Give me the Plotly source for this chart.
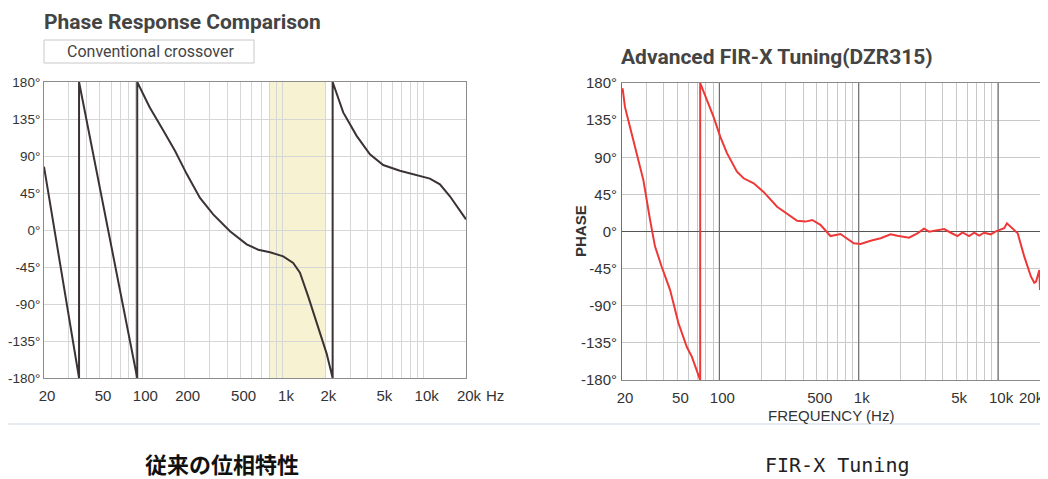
import math
import plotly.graph_objects as go

# ---------------- data ----------------
# Conventional crossover phase (Hz, degrees); repeated freq = wrap-around jump
conv_freq = [20, 35.5, 35.5, 92, 92, 113, 141, 171, 207, 257, 319, 420, 552, 667,
             808, 1004, 1182, 1320, 1512, 1734, 2041, 2254, 2254, 2680, 3338, 4150,
             5158, 6778, 8912, 11076, 13052, 15374, 20000]
conv_phase = [77, -180, 180, -180, 180, 149, 121, 96, 68, 39, 19, -1.5, -17.5, -24,
              -27, -32, -40, -52, -81, -113, -150, -180, 180, 143, 114.5, 92,
              79, 72, 66.5, 62.5, 55.5, 41, 13]

# Crossover band highlighted on the left chart (Hz)
band_freq = [800, 2000]

# Advanced FIR-X tuning phase (Hz, degrees)
fir_freq = [20.2, 21.0, 22.8, 25.5, 28.5, 31.8, 34.5, 38.6, 44.3, 50.8, 58.4, 63.5,
            68.9, 72.8, 72.8, 81.3, 90.8, 101.4, 113.3, 133.7, 149.2, 176.2, 207.6,
            259.5, 306.2, 361.4, 415, 463.6, 531, 627, 740, 922, 1031, 1217, 1436,
            1695, 1894, 2296, 2637, 2944, 3199, 3675, 4104, 4582, 5118, 5560, 6200,
            6736, 7314, 7944, 8873, 9640, 10473, 11067, 11580, 12365, 13830, 15430,
            17230, 18210, 18720, 19790, 20000]
fir_phase = [173.6, 151, 127, 95, 62, 14, -18, -43, -71, -111, -140, -152,
             -168, -180, 180, 159, 139, 115, 95, 72.5, 64.5, 58.5, 48,
             30, 22, 13, 12, 14, 8, -5.5, -3, -14.3, -15.2, -11.2, -8.2,
             -3.4, -5.1, -7.5, -2.2, 3.4, -0.2, 1.8, 3.0, -1.5, -5.5, -1.0, -5.5,
             -1.5, -5.1, -1.5, -3.4, 0.2, 2.7, 3.9, 9.9, 5.1, -2.2, -30.5,
             -54.8, -62.1, -60.8, -46.7, -71]

# axis ticks
grid_freqs = [m * 10 ** e for e in range(1, 5) for m in range(1, 10)
              if 20 <= m * 10 ** e <= 20000]
left_labels = {20: "20", 50: "50", 100: "100", 200: "200", 500: "500", 1000: "1k",
               2000: "2k", 5000: "5k", 10000: "10k", 20000: "20k"}
right_labels = {20: "20", 50: "50", 100: "100", 500: "500", 1000: "1k",
                5000: "5k", 10000: "10k"}
right_edge_label = (20000, "20k")
decade_freqs = [100, 1000, 10000]
phase_ticks = [-180, -135, -90, -45, 0, 45, 90, 135, 180]
phase_labels = [f"{v}°" for v in phase_ticks]

# page has an 8px body margin; figure sized so the page is exactly the window
OFF = 8
W, H = 1048 - OFF, 479 - OFF


def px_x(p):
    return (p - OFF) / W


def px_y(p):
    return 1 - (p - OFF) / H


fig = go.Figure()

# left: conventional
fig.add_trace(go.Scatter(x=conv_freq, y=conv_phase, mode="lines",
                         line=dict(color="#3b3333", width=2),
                         xaxis="x", yaxis="y", showlegend=False, hoverinfo="skip"))

# right: decade darker grid lines
dx, dy = [], []
for f in decade_freqs:
    dx += [f, f, None]
    dy += [-180, 180, None]
fig.add_trace(go.Scatter(x=dx, y=dy, mode="lines", line=dict(color="#6e6e6e", width=1.2),
                         xaxis="x2", yaxis="y2", showlegend=False, hoverinfo="skip"))
fig.add_trace(go.Scatter(x=fir_freq, y=fir_phase, mode="lines",
                         line=dict(color="#ee3838", width=2),
                         xaxis="x2", yaxis="y2", showlegend=False, hoverinfo="skip"))

tick_font = dict(family="Liberation Sans, Arial, sans-serif", size=15, color="#333333")
left_ytick_font = dict(tick_font, size=13.5)

common_x = dict(type="log", range=[1.30103, 4.30103], tickvals=grid_freqs,
                showgrid=True, gridwidth=1, ticks="", ticklen=0, showline=True,
                mirror=True, zeroline=False, tickfont=tick_font, ticklabelstandoff=4,
                ticklabelshift=3, ticklabeloverflow="allow", automargin=False,
                fixedrange=True)
common_y = dict(range=[-180, 180], tickvals=phase_ticks, ticktext=phase_labels,
                showgrid=True, gridwidth=1, ticks="", ticklen=0, showline=True,
                mirror=True, tickfont=tick_font, ticklabelstandoff=1,
                ticklabeloverflow="allow", automargin=False, fixedrange=True)

fig.update_layout(
    width=W, height=H, autosize=False,
    margin=dict(l=0, r=0, t=0, b=0, pad=0),
    paper_bgcolor="white", plot_bgcolor="white",
    xaxis=dict(common_x, domain=[px_x(44), px_x(466)],
               ticktext=[left_labels.get(f, "") for f in grid_freqs],
               gridcolor="#d6d6d6", linecolor="#8c8c8c", anchor="y"),
    yaxis=dict(common_y, domain=[px_y(378), px_y(82)], gridcolor="#d6d6d6",
               linecolor="#8c8c8c", zeroline=False, anchor="x",
               tickfont=left_ytick_font, ticklabelstandoff=0),
    xaxis2=dict(common_x, domain=[px_x(622), px_x(1040)],
                ticktext=[right_labels.get(f, "") for f in grid_freqs],
                gridcolor="#c9c9c9", linecolor="#8a8a8a", anchor="y2"),
    yaxis2=dict(common_y, domain=[px_y(380), px_y(83)], gridcolor="#c9c9c9",
                linecolor="#707070", zeroline=True, zerolinecolor="#555555",
                zerolinewidth=1.2, anchor="x2"),
)

# crossover band shading (below grid)
fig.add_shape(type="rect", xref="x", yref="y", x0=band_freq[0], x1=band_freq[1],
              y0=-180, y1=180, fillcolor="#f7f2d2", line=dict(width=0), layer="below")

# legend-like box
fig.add_shape(type="rect", xref="paper", yref="paper", x0=px_x(44), x1=px_x(254),
              y0=px_y(63), y1=px_y(40), line=dict(color="#c8c8c8", width=1),
              fillcolor="white")
# separator line
fig.add_shape(type="line", xref="paper", yref="paper", x0=0, x1=1,
              y0=px_y(424), y1=px_y(424), line=dict(color="#e6eaf1", width=2))

title_font = dict(family="Roboto, sans-serif", size=21, color="#444444", weight="bold")
ann = [
    dict(text="Phase Response Comparison", x=px_x(42), y=px_y(22), xanchor="left",
         yanchor="middle", font=title_font),
    dict(text="Conventional crossover", x=px_x(150), y=px_y(52), xanchor="center",
         yanchor="middle", font=dict(family="Roboto, sans-serif", size=16, color="#444444")),
    dict(text="Advanced FIR-X Tuning(DZR315)", x=px_x(619), y=px_y(57), xanchor="left",
         yanchor="middle", font=title_font),
    dict(text="Hz", x=px_x(484), y=px_y(395), xanchor="left", yanchor="middle",
         font=tick_font),
    dict(text="FREQUENCY (Hz)", x=px_x(831), y=px_y(415), xanchor="center",
         yanchor="middle", font=dict(family="Liberation Sans, Arial, sans-serif",
                                     size=15, color="#333333")),
    dict(text="<b>PHASE</b>", x=px_x(580), y=px_y(231), xanchor="center",
         yanchor="middle", textangle=-90,
         font=dict(family="Liberation Sans, Arial, sans-serif", size=15, color="#333333")),
    dict(text="従来の位相特性", x=px_x(222), y=px_y(463), xanchor="center",
         yanchor="middle", font=dict(family="Noto Sans CJK JP", size=22, color="#111111",
                                     weight="bold")),
    dict(text="FIR-X Tuning", x=px_x(837), y=px_y(465), xanchor="center",
         yanchor="middle", font=dict(family="DejaVu Sans Mono, monospace", size=20,
                                     color="#222222")),
]
for a in ann:
    a.update(xref="paper", yref="paper", showarrow=False)
# last right-axis tick label, kept inside the page at the plot's right edge
ann.append(dict(text=right_edge_label[1], xref="x2", yref="paper",
                x=math.log10(right_edge_label[0]), y=px_y(397), xanchor="right",
                yanchor="middle", xshift=6, showarrow=False, font=tick_font))
fig.update_layout(annotations=ann)

fig.write_html("out.html")
